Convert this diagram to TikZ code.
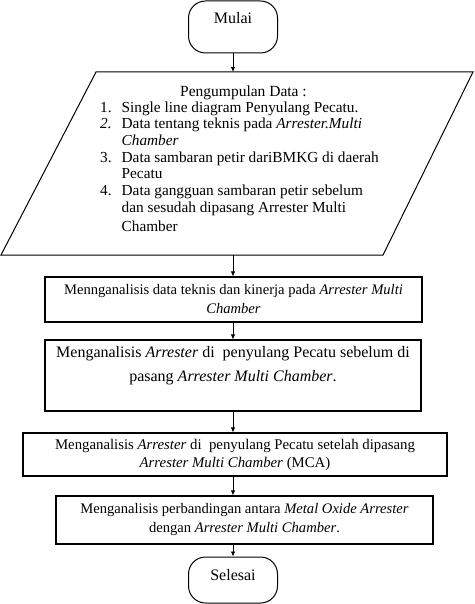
\documentclass[tikz,border=0pt]{standalone}
\usepackage{fontspec}
\setmainfont{Liberation Serif}
\usetikzlibrary{arrows.meta,positioning,calc}
\tikzset{
  % terminal (Mulai / Selesai)
  terminal/.style={
    draw,
    line width=1pt,
    rounded corners=17pt,
    minimum width=89pt,
    text height=11pt,
    font=\fontsize{16}{18}\selectfont
  },
  % kotak proses
  proses/.style={
    draw,
    line width=1.1pt,
    align=center,
    inner sep=0pt,
    font=\fontsize{14.6}{19}\selectfont
  },
  % panah
  arr/.style={-{Latex[length=5pt,width=4.5pt]}, line width=0.8pt},
}

\begin{document}
\begin{tikzpicture}[x=1pt,y=-1pt]
  \useasboundingbox (0,0) rectangle (474,604);

  % Mulai
  \node[terminal, minimum height=52pt, text depth=17pt] (mulai) at (233,27) {Mulai};

  % Pengumpulan data
  \coordinate (p1) at (96,72);
  \coordinate (p2) at (473,72);
  \coordinate (p3) at (383,255);
  \coordinate (p4) at (1,255);
  \draw[line width=1pt] (p1) -- (p2) -- (p3) -- (p4) -- cycle;
  \node[font=\fontsize{15.5}{16.7}\selectfont] (judul) at (243.5,93) {Pengumpulan Data :};
  \node[anchor=north west, inner sep=0pt, font=\fontsize{15.3}{16.7}\selectfont] (daftar) at (100,100.3) {%
    \begin{tabular}{@{}l@{\hspace{10pt}}l@{}}
      1. & Single line diagram Penyulang Pecatu.\\
      \textit{2.} & Data tentang teknis pada \textit{Arrester.Multi}\\
         & \textit{Chamber}\\
      3. & Data sambaran petir dariBMKG di daerah\\
         & Pecatu\\
      4. & Data gangguan sambaran petir sebelum\\
         & dan sesudah dipasang Arrester Multi\\[2.5pt]
         & Chamber
    \end{tabular}};

  % Analisis
  \node[proses, minimum width=377pt, minimum height=45pt] (analisis1) at (233.5,299.5)
    {Mennganalisis data teknis dan kinerja pada \textit{Arrester Multi}\\ \textit{Chamber}};
  \node[proses, minimum width=376pt, minimum height=71pt, font=\fontsize{16}{24}\selectfont] (analisis2) at (233,375.5)
    {Menganalisis \textit{Arrester} di\ \ penyulang Pecatu sebelum di\\ pasang \textit{Arrester Multi Chamber}.\\ ~};
  \node[proses, minimum width=424pt, minimum height=43pt, font=\fontsize{14.8}{18}\selectfont] (analisis3) at (235,454.5)
    {Menganalisis \textit{Arrester} di\ \ penyulang Pecatu setelah dipasang\\ \textit{Arrester Multi Chamber} (MCA)};
  \node[proses, minimum width=377pt, minimum height=48pt] (analisis4) at (244.5,520)
    {Menganalisis perbandingan antara \textit{Metal Oxide Arrester}\\ dengan \textit{Arrester Multi Chamber}.};

  % Selesai
  \node[terminal, minimum height=46pt, text depth=10pt] (selesai) at (233,580) {Selesai};

  % panah
  \draw[arr] (mulai.south) -- (mulai |- p1);
  \draw[arr] (mulai |- p4) -- (analisis1.north -| mulai);
  \draw[arr] (analisis1.south -| mulai) -- (analisis2.north -| mulai);
  \draw[arr] (analisis2.south -| mulai) -- (analisis3.north -| mulai);
  \draw[arr] (analisis3.south -| mulai) -- (analisis4.north -| mulai);
  \draw[arr] (analisis4.south -| mulai) -- (selesai.north);
\end{tikzpicture}
\end{document}
